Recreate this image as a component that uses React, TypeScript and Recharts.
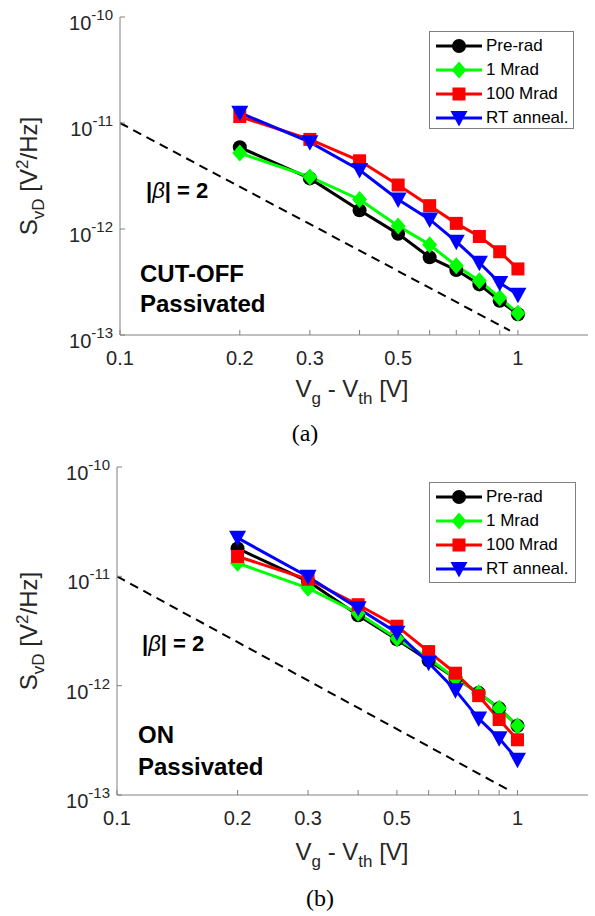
import React from "react";
import { LineChart, Line, XAxis, YAxis, Legend } from "recharts";

const vgVth = [0.2, 0.3, 0.4, 0.5, 0.6, 0.7, 0.8, 0.9, 1.0];

const seriesNames = ["Pre-rad", "1 Mrad", "100 Mrad", "RT anneal."];
const seriesColors = ["#000000", "#00ff00", "#ff0000", "#0000ff"];
const seriesShapes = ["circle", "diamond", "square", "triangle"];

// (a) cut-off, passivated
const offPreRad = [5.9e-12, 3.0e-12, 1.5e-12, 9.0e-13, 5.4e-13, 4.1e-13, 3.0e-13, 2.1e-13, 1.57e-13];
const off1Mrad = [5.2e-12, 3.1e-12, 1.9e-12, 1.07e-12, 7.1e-13, 4.5e-13, 3.25e-13, 2.25e-13, 1.6e-13];
const off100Mrad = [1.15e-11, 7.0e-12, 4.4e-12, 2.6e-12, 1.66e-12, 1.13e-12, 8.5e-13, 6.1e-13, 4.2e-13];
const offAnneal = [1.25e-11, 6.6e-12, 3.6e-12, 1.9e-12, 1.23e-12, 7.6e-13, 4.8e-13, 3.1e-13, 2.4e-13];

// (b) on, passivated
const onPreRad = [1.8e-11, 9.0e-12, 4.4e-12, 2.65e-12, 1.7e-12, 1.17e-12, 8.6e-13, 6.2e-13, 4.3e-13];
const on1Mrad = [1.32e-11, 7.8e-12, 4.6e-12, 2.7e-12, 1.78e-12, 1.17e-12, 8.6e-13, 6.2e-13, 4.3e-13];
const on100Mrad = [1.52e-11, 9.4e-12, 5.5e-12, 3.5e-12, 2.05e-12, 1.3e-12, 8.1e-13, 4.9e-13, 3.2e-13];
const onAnneal = [2.25e-11, 9.9e-12, 5.1e-12, 3.05e-12, 1.62e-12, 9.1e-13, 5.0e-13, 3.3e-13, 2.1e-13];

// |beta| = 2 guide line
const betaX = [0.1, 0.955];
const betaY = [1e-11, 1.1e-13];

const xTicks = [0.1, 0.2, 0.3, 0.4, 0.5, 0.6, 0.7, 0.8, 0.9, 1];
const xTickLabels = [0.1, 0.2, 0.3, 0.5, 1];
const yTicks = [1e-13, 1e-12, 1e-11, 1e-10];

const AXIS = "#808080";
const TXT = "#262626";
const SANS = '"Liberation Sans", Arial, Helvetica, sans-serif';
const SERIF = '"Liberation Serif", "Times New Roman", serif';

const toRows = (xs: number[], ys: number[]) => xs.map((x, i) => ({ x, y: ys[i] }));
const betaRows = toRows(betaX, betaY);

function Marker({ cx, cy, shape, color }: any) {
  if (cx == null || cy == null) return null;
  if (shape === "circle") return <circle cx={cx} cy={cy} r={7} fill={color} />;
  if (shape === "square")
    return <rect x={cx - 6.5} y={cy - 6.5} width={13} height={13} fill={color} />;
  if (shape === "diamond")
    return (
      <polygon
        points={`${cx},${cy - 8.5} ${cx + 7.5},${cy} ${cx},${cy + 8.5} ${cx - 7.5},${cy}`}
        fill={color}
      />
    );
  return (
    <polygon
      points={`${cx - 8.5},${cy - 7} ${cx + 8.5},${cy - 7} ${cx},${cy + 8.5}`}
      fill={color}
    />
  );
}

const BottomTick = (p: any) => {
  const { x, y, payload } = p;
  const v = payload.value;
  return (
    <g>
      <line x1={x} x2={x} y1={y} y2={y - 5} stroke={AXIS} />
      {xTickLabels.includes(v) && (
        <text x={x} y={y + 30} textAnchor="middle" fontSize={20} fill={TXT} fontFamily={SANS}>
          {String(v)}
        </text>
      )}
    </g>
  );
};

const TopTick = (p: any) => {
  const { x, y } = p;
  return <line x1={x} x2={x} y1={y} y2={y + 5} stroke={AXIS} />;
};

const LeftTick = (p: any) => {
  const { x, y, payload } = p;
  const exp = Math.round(Math.log10(payload.value));
  return (
    <g>
      <line x1={x} x2={x + 5} y1={y} y2={y} stroke={AXIS} />
      <text x={x - 7} y={y + 13} textAnchor="end" fontSize={20} fill={TXT} fontFamily={SANS}>
        <tspan>10</tspan>
        <tspan dy={-10} fontSize={15}>{String(exp)}</tspan>
      </text>
    </g>
  );
};

const RightTick = (p: any) => {
  const { x, y } = p;
  return <line x1={x} x2={x - 5} y1={y} y2={y} stroke={AXIS} />;
};

function LegendBox() {
  return (
    <div
      style={{
        width: "100%",
        height: "100%",
        boxSizing: "border-box",
        border: `1px solid ${AXIS}`,
        background: "#fff",
        paddingTop: 2,
        fontFamily: SANS,
      }}
    >
      {seriesNames.map((name, i) => (
        <div key={name} style={{ display: "flex", alignItems: "center", height: 24 }}>
          <svg width={56} height={24} style={{ flex: "none" }}>
            <line x1={6} x2={52} y1={12} y2={12} stroke={seriesColors[i]} strokeWidth={3} />
            <Marker cx={29} cy={12} shape={seriesShapes[i]} color={seriesColors[i]} />
          </svg>
          <span style={{ fontSize: 17, color: "#000", whiteSpace: "nowrap" }}>{name}</span>
        </div>
      ))}
    </div>
  );
}

function Panel(props: any) {
  const { cfg, series } = props;
  return (
    <div style={{ position: "absolute", left: 0, top: cfg.top, width: 595, height: cfg.height }}>
      <LineChart
        width={595}
        height={cfg.chartHeight}
        margin={{ top: 17, right: 7, bottom: 0, left: 0 }}
      >
        <XAxis
          xAxisId="b"
          dataKey="x"
          type="number"
          scale="log"
          domain={[0.1, 1.5]}
          allowDataOverflow
          ticks={xTicks}
          interval={0}
          tick={BottomTick}
          tickLine={false}
          tickSize={0}
          tickMargin={0}
          axisLine={{ stroke: AXIS }}
          height={85}
        />
        <XAxis
          xAxisId="t"
          orientation="top"
          dataKey="x"
          type="number"
          scale="log"
          domain={[0.1, 1.5]}
          allowDataOverflow
          ticks={xTicks}
          interval={0}
          tick={TopTick}
          tickLine={false}
          tickSize={0}
          tickMargin={0}
          axisLine={{ stroke: AXIS }}
          height={0}
        />
        <YAxis
          yAxisId="l"
          type="number"
          scale="log"
          domain={[1e-13, 1e-10]}
          allowDataOverflow
          ticks={yTicks}
          interval={0}
          tick={LeftTick}
          tickLine={false}
          tickSize={0}
          tickMargin={0}
          axisLine={{ stroke: AXIS }}
          width={cfg.plotLeft}
        />
        <YAxis
          yAxisId="r"
          orientation="right"
          type="number"
          scale="log"
          domain={[1e-13, 1e-10]}
          allowDataOverflow
          ticks={yTicks}
          interval={0}
          tick={RightTick}
          tickLine={false}
          tickSize={0}
          tickMargin={0}
          axisLine={{ stroke: AXIS }}
          width={0}
        />
        <Line
          xAxisId="b"
          yAxisId="l"
          data={betaRows}
          dataKey="y"
          stroke="#000"
          strokeWidth={2}
          strokeDasharray="9 6"
          dot={false}
          activeDot={false}
          isAnimationActive={false}
        />
        {series.map((ys: number[], i: number) => (
          <Line
            key={seriesNames[i]}
            xAxisId="b"
            yAxisId="l"
            data={toRows(vgVth, ys)}
            dataKey="y"
            name={seriesNames[i]}
            stroke={seriesColors[i]}
            strokeWidth={3}
            dot={(d: any) => (
              <Marker
                key={`${i}-${d.index}`}
                cx={d.cx}
                cy={d.cy}
                shape={seriesShapes[i]}
                color={seriesColors[i]}
              />
            )}
            activeDot={false}
            isAnimationActive={false}
          />
        ))}
        <Legend
          layout="vertical"
          align="center"
          verticalAlign="middle"
          wrapperStyle={cfg.legend}
          content={() => <LegendBox />}
        />
      </LineChart>
      <svg
        width={595}
        height={cfg.height}
        style={{ position: "absolute", left: 0, top: 0, pointerEvents: "none" }}
        fontFamily={SANS}
      >
        <text x={352} y={cfg.xTitleY} textAnchor="middle" fontSize={24} fill={TXT}>
          <tspan>V</tspan>
          <tspan dy={7} fontSize={17}>g</tspan>
          <tspan dy={-7}> - V</tspan>
          <tspan dy={7} fontSize={17}>th</tspan>
          <tspan dy={-7}> [V]</tspan>
        </text>
        <text
          x={37}
          y={cfg.yTitleY}
          transform={`rotate(-90, 37, ${cfg.yTitleY})`}
          textAnchor="middle"
          fontSize={24}
          fill={TXT}
        >
          <tspan>S</tspan>
          <tspan dy={7} fontSize={17}>vD</tspan>
          <tspan dy={-7}> [V</tspan>
          <tspan dy={-9} fontSize={17}>2</tspan>
          <tspan dy={9}>/Hz]</tspan>
        </text>
        <text x={cfg.beta.x} y={cfg.beta.y} fontSize={22} fontWeight="bold" fill="#000">
          <tspan>|</tspan>
          <tspan fontWeight="normal" fontStyle="italic">β</tspan>
          <tspan>| = 2</tspan>
        </text>
        {cfg.labelLines.map((s: string, i: number) => (
          <text
            key={s}
            x={cfg.labelX}
            y={cfg.labelY[i]}
            fontSize={24}
            fontWeight="bold"
            fill="#000"
          >
            {s}
          </text>
        ))}
        <text
          x={cfg.letterX}
          y={cfg.letterY}
          textAnchor="middle"
          fontSize={24}
          fill="#000"
          fontFamily={SERIF}
        >
          {cfg.letter}
        </text>
      </svg>
    </div>
  );
}

const panelA = {
  top: 0,
  height: 450,
  chartHeight: 420,
  plotLeft: 120,
  yTitleY: 176,
  xTitleY: 397,
  letter: "(a)",
  letterX: 305,
  letterY: 441,
  beta: { x: 146, y: 198 },
  labelLines: ["CUT-OFF", "Passivated"],
  labelX: 140,
  labelY: [282, 312],
  legend: { left: 429, top: 31, width: 145, height: 98 },
};

const panelB = {
  top: 450,
  height: 466,
  chartHeight: 430,
  plotLeft: 117,
  yTitleY: 181,
  xTitleY: 410,
  letter: "(b)",
  letterX: 320,
  letterY: 456,
  beta: { x: 142, y: 201 },
  labelLines: ["ON", "Passivated"],
  labelX: 138,
  labelY: [293, 325],
  legend: { left: 429, top: 32, width: 147, height: 101 },
};

export default function App() {
  return (
    <div
      style={{
        position: "absolute",
        left: 0,
        top: 0,
        width: 595,
        height: 916,
        background: "#fff",
        fontFamily: SANS,
      }}
    >
      <Panel cfg={panelA} series={[offPreRad, off1Mrad, off100Mrad, offAnneal]} />
      <Panel cfg={panelB} series={[onPreRad, on1Mrad, on100Mrad, onAnneal]} />
    </div>
  );
}
